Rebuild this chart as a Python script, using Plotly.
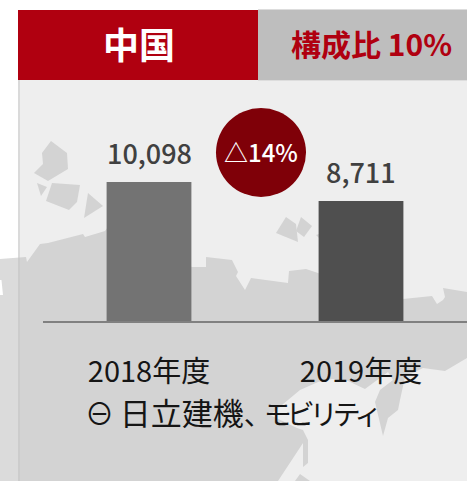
import plotly.graph_objects as go

# ---- data ----
categories = ["2018年度", "2019年度"]
values = [10098, 8711]
value_labels = ["10,098", "8,711"]
bar_colors = ["#737373", "#4f4f4f"]
change_label = "△14%"
region_title = "中国"
share_label = "構成比 10%"
forecast_note = ("<span style='font-size:29px'>⊖</span> "
                 "<span style='font-size:31px'>日立建機</span>"
                 "<span style='font-size:28px;letter-spacing:-8px'>、</span>"
                 "<span style='font-size:28px;letter-spacing:-5px'>モビリティ</span>")

# ---- layout constants ----
W, H = 467, 481
ML, MR, MT, MB = 43, 0, 80, 160
PW, PH = W - ML - MR, H - MT - MB
FONT = "Noto Sans CJK JP"
RED = "#b00010"


def fx(px):
    return (px - ML) / PW


def fy(py):
    return 1 - (py - MT) / PH


def poly(points, color, layer="below"):
    d = "M" + " L".join(f"{fx(x):.5f},{fy(y):.5f}" for x, y in points) + " Z"
    return dict(type="path", xref="paper", yref="paper", path=d,
                fillcolor=color, line=dict(width=0), layer=layer)


def rect(x0, y0, x1, y1, color, opacity=1, layer="below"):
    return dict(type="rect", xref="paper", yref="paper", x0=fx(x0), x1=fx(x1),
                y0=fy(y0), y1=fy(y1), fillcolor=color, opacity=opacity,
                line=dict(width=0), layer=layer)


# decorative background map outline (pixel outline of the backdrop)
MAP = "#d3d3d3"
land = [(0, 259), (26, 257), (27, 262), (40, 244), (48, 243), (83, 234), (85, 237),
        (105, 231), (108, 227), (150, 250), (192, 267), (206, 267), (206, 257), (232, 260),
        (238, 272), (236, 276), (245, 290), (251, 278), (288, 283), (289, 271),
        (306, 269), (318, 273), (360, 290), (403, 299), (432, 296), (437, 304),
        (443, 300), (445, 297), (443, 288), (467, 292), (467, 358), (445, 371),
        (423, 368), (405, 377), (400, 400), (398, 410), (388, 418), (383, 436),
        (375, 402), (380, 390), (393, 380), (388, 372), (365, 389), (348, 381),
        (332, 379), (318, 382), (300, 390), (270, 415), (297, 428), (303, 430),
        (308, 440), (308, 463), (303, 467), (303, 443), (278, 481), (0, 481),
        (0, 295), (3, 295), (1.5, 280), (0, 280)]
islands = [
    [(51, 141), (67, 153), (68, 169), (48, 181), (34, 173), (43, 164), (42, 153)],
    [(37, 183), (47, 187), (41, 196)],
    [(52, 183), (80, 185), (77, 202), (69, 210), (46, 201)],
    [(88, 193), (103, 206), (84, 218)],
    [(286, 217), (296, 224), (298, 242), (276, 233)],
    [(301, 217), (312, 226), (304, 237), (296, 231)],
    [(316, 235), (319, 234), (319, 238)],
    [(300, 474), (310, 481), (295, 481)],
]

shapes = [rect(18, 80, 467, 481, "#eeeeee")]
shapes.append(poly(land, MAP))
shapes += [poly(p, MAP) for p in islands]
shapes.append(rect(0, 240, 18, 481, "#ffffff", opacity=0.18))
shapes.append(rect(18.5, 80, 19.5, 481, "#c6c6c6"))
shapes.append(rect(258, 9, 467, 10, "#dddddd"))
shapes.append(rect(258, 80, 467, 81, "#dddddd"))
shapes.append(rect(18, 10, 258, 80, RED))
shapes.append(rect(258, 10, 467, 80, "#bebebe"))
shapes.append(dict(type="circle", xref="paper", yref="paper", x0=fx(216), x1=fx(306),
                   y0=fy(197), y1=fy(108), fillcolor="#7f0008", line=dict(width=0),
                   layer="above"))


def note(px, py, text, size, color, anchor="center", weight=None):
    return dict(xref="paper", yref="paper", x=fx(px), y=fy(py), text=text, showarrow=False,
                xanchor=anchor, yanchor="middle", align="left",
                font=dict(family=FONT, size=size, color=color, weight=weight),
                borderpad=0, borderwidth=0)


annotations = [
    note(139, 43, region_title, 36, "#ffffff", weight=700),
    note(371, 43, share_label, 30, RED, weight=700),
    note(261, 151, change_label, 24, "#ffffff", weight=500),
    note(84.5, 411, forecast_note, 26, "#151515", anchor="left"),
]
for i, (v, lab) in enumerate(zip(values, value_labels)):
    annotations.append(dict(xref="x", yref="y", x=i, y=v, text=lab, showarrow=False,
                            xanchor="center", yanchor="bottom", yshift=8,
                            font=dict(family=FONT, size=27, color="#404040", weight=500)))

fig = go.Figure(go.Bar(
    x=[0, 1], y=values, width=0.4,
    marker=dict(color=bar_colors, line=dict(width=0)),
    hoverinfo="skip",
))
fig.update_layout(
    width=W, height=H, margin=dict(l=ML, r=MR, t=MT, b=MB, pad=0),
    paper_bgcolor="#ffffff", plot_bgcolor="rgba(0,0,0,0)",
    showlegend=False, shapes=shapes, annotations=annotations,
    xaxis=dict(range=[-0.5, 1.5], tickmode="array", tickvals=[0, 1], ticktext=categories,
               ticks="outside", ticklen=24, tickcolor="rgba(0,0,0,0)",
               tickfont=dict(family=FONT, size=29, color="#151515"),
               showline=True, linecolor="#808080", linewidth=2,
               showgrid=False, zeroline=False, fixedrange=True),
    yaxis=dict(range=[0, 72.6 * PH], visible=False, fixedrange=True),
)
fig.write_html("out.html", config=dict(displayModeBar=False),
               post_script="document.body.style.margin='0';")
